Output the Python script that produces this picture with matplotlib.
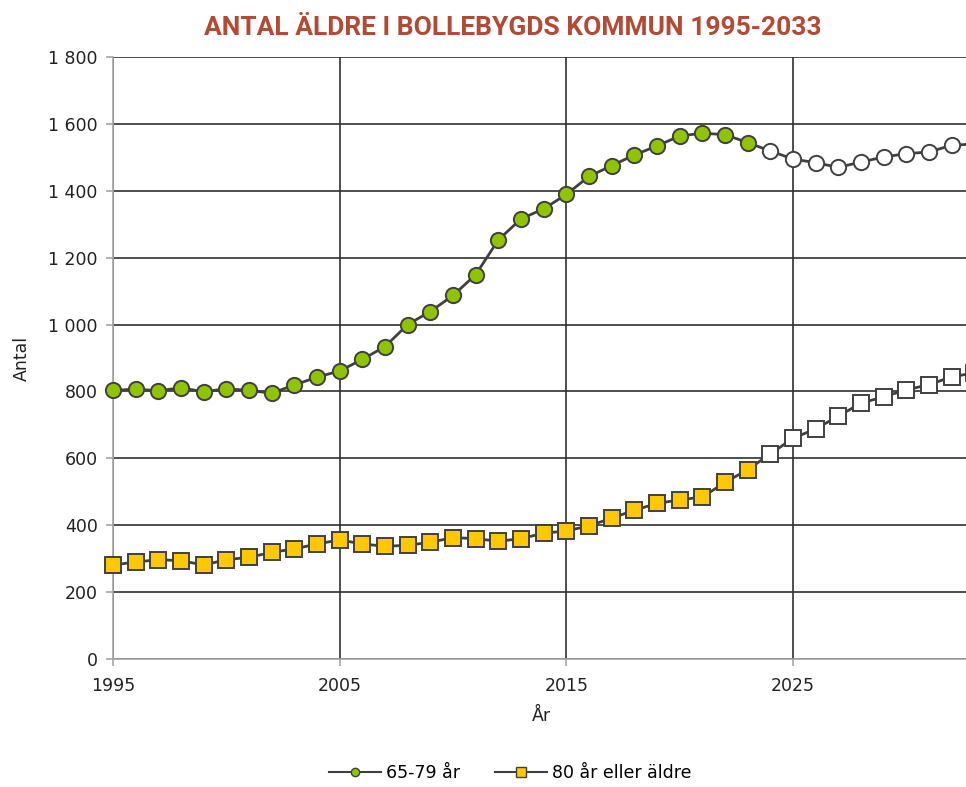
import matplotlib
matplotlib.use("Agg")
import matplotlib.pyplot as plt
from matplotlib.lines import Line2D
from matplotlib.ticker import FuncFormatter

years = list(range(1995, 2034))
last_actual = 2023

age_65_79 = [803, 807, 802, 811, 799, 808, 803, 795, 819, 843,
             861, 896, 934, 1000, 1039, 1087, 1149, 1253, 1316, 1346,
             1389, 1443, 1475, 1507, 1534, 1564, 1572, 1568, 1544, 1519,
             1495, 1484, 1470, 1486, 1501, 1511, 1516, 1536, 1540]
age_80_plus = [281, 290, 297, 294, 281, 297, 304, 319, 329, 344,
               356, 344, 337, 340, 349, 363, 360, 352, 360, 376,
               383, 398, 421, 445, 465, 476, 484, 528, 566, 613,
               660, 688, 726, 765, 784, 805, 820, 844, 855]

series_labels = ["65-79 år", "80 år eller äldre"]
title = "ANTAL ÄLDRE I BOLLEBYGDS KOMMUN 1995-2033"
xticks = [1995, 2005, 2015, 2025]
yticks = list(range(0, 1801, 200))

plt.rcParams['font.family'] = ['DejaVu Sans']

W, H = 966, 787
fig = plt.figure(figsize=(W / 100, H / 100), dpi=100)
left, right_px, top, bottom = 113, 974.3, 57, 659
ax = fig.add_axes([left / W, 1 - bottom / H, (right_px - left) / W, (bottom - top) / H])
ax.set_xlim(1995, 2033)
ax.set_ylim(0, 1800)

line_col = '#404040'
green = '#8fc400'
yellow = '#ffc800'

hist_idx = [i for i, y in enumerate(years) if y <= last_actual]
fc_idx = [i for i, y in enumerate(years) if y > last_actual]

for vals, marker, color, ms in [(age_65_79, 'o', green, 11), (age_80_plus, 's', yellow, 11)]:
    ax.plot(years, vals, color=line_col, lw=2, zorder=3, clip_on=False)
    ax.plot([years[i] for i in hist_idx], [vals[i] for i in hist_idx], ls='none', marker=marker,
            ms=ms, mfc=color, mec=line_col, mew=1.4, zorder=4, clip_on=False)
    ax.plot([years[i] for i in fc_idx], [vals[i] for i in fc_idx], ls='none', marker=marker,
            ms=ms, mfc='white', mec=line_col, mew=1.4, zorder=4, clip_on=False)

ax.set_xticks(xticks)
ax.set_yticks(yticks)
ax.yaxis.set_major_formatter(FuncFormatter(lambda v, p: f"{int(v):,}".replace(",", " ")))
ax.grid(True, color='#303030', lw=1.2)
ax.set_axisbelow(True)
for s in ['top', 'right']:
    ax.spines[s].set_visible(False)
for s in ['left', 'bottom']:
    ax.spines[s].set_color('#a6a6a6')
    ax.spines[s].set_linewidth(1.2)
    ax.spines[s].set_zorder(2.5)
ax.tick_params(axis='both', colors='#a6a6a6', length=5, width=1.2, labelcolor='#222222', labelsize=12.5)
ax.tick_params(axis='x', pad=8)
ax.tick_params(axis='y', pad=6)

ax.set_xlabel("År", fontsize=12.5, color='#222222')
ax.set_ylabel("Antal", fontsize=12.5, color='#222222')
ax.xaxis.set_label_coords((541 - left) / (right_px - left), (bottom - 716) / (bottom - top))
ax.xaxis.label.set_va('center')
ax.yaxis.set_label_coords((22 - left) / (right_px - left), (bottom - 358) / (bottom - top))
ax.yaxis.label.set_va('center')

fig.text(513 / W, 1 - 28 / H, title, ha='center', va='center', fontsize=19, fontweight='bold',
         color='#b24a35', family=['Roboto', 'DejaVu Sans'])

handles = [
    Line2D([], [], color=line_col, lw=1.5, marker='o', ms=6, mfc=green, mec=line_col, mew=1),
    Line2D([], [], color=line_col, lw=1.5, marker='s', ms=7, mfc=yellow, mec=line_col, mew=1),
]
fig.legend(handles, series_labels, loc='center', bbox_to_anchor=(510 / W, 1 - 773 / H), ncol=2,
           frameon=False, fontsize=12.5, handlelength=3, columnspacing=2.0, handletextpad=0.3)

fig.savefig("out.png", dpi=100)
